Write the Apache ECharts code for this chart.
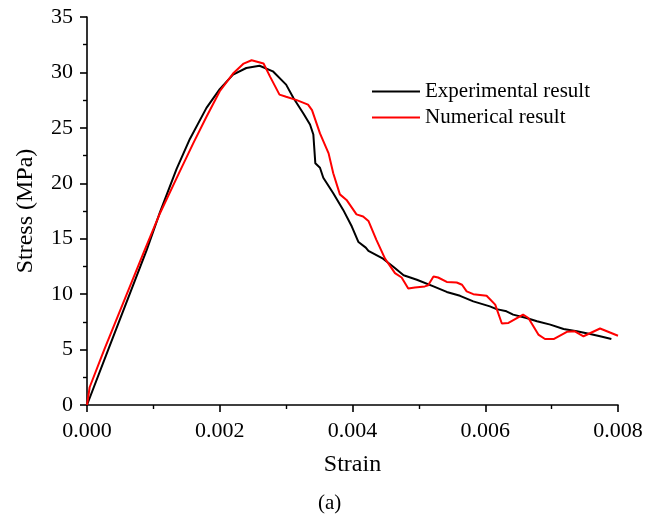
<!DOCTYPE html>
<html>
<head>
<meta charset="utf-8">
<script src="https://cdn.jsdelivr.net/npm/echarts@6/dist/echarts.min.js"></script>
<style>
html,body{margin:0;padding:0;background:#fff;}
#chart{width:646px;height:519px;}
</style>
</head>
<body>
<div id="chart"></div>
<script>
// Experimental result (strain, stress in MPa)
var expStrain = [0,0.00032,0.0009,0.0011,0.00135,0.00155,0.0018,0.002,0.0022,0.0024,0.0026,0.0028,0.003,0.00311,0.00326,0.00336,0.00341,0.00344,0.00351,0.00356,0.00371,0.00386,0.00399,0.00409,0.0042,0.00424,0.00446,0.00461,0.00477,0.00497,0.00522,0.00542,0.00562,0.00582,0.00607,0.00617,0.00632,0.00642,0.00662,0.00678,0.00698,0.00718,0.00738,0.00758,0.00773,0.0079];
var expStress = [0,5.0,14.0,17.4,21.3,24.0,26.8,28.5,29.8,30.4,30.6,30.1,28.9,27.7,26.3,25.3,24.4,21.8,21.4,20.5,19.1,17.6,16.1,14.7,14.2,13.9,13.2,12.5,11.7,11.3,10.7,10.2,9.85,9.35,8.9,8.65,8.45,8.15,7.85,7.55,7.25,6.85,6.65,6.4,6.2,5.95];
// Numerical result
var numStrain = [0,0.00004,0.00026,0.00087,0.0011,0.0014,0.0016,0.0018,0.002,0.0022,0.00236,0.00248,0.00266,0.00276,0.0029,0.003,0.00316,0.00333,0.00339,0.00351,0.00364,0.00371,0.00381,0.00391,0.00406,0.00416,0.00424,0.00436,0.00449,0.00464,0.00474,0.00484,0.00494,0.00509,0.00514,0.00522,0.00529,0.00542,0.00557,0.00565,0.00572,0.00582,0.00602,0.00615,0.00625,0.00635,0.00657,0.00665,0.0068,0.0069,0.00703,0.00723,0.00735,0.00748,0.00773,0.008];
var numStress = [0,1.6,5.0,14.0,17.3,21.1,23.6,26.0,28.3,29.9,30.8,31.1,30.8,29.6,28.0,27.8,27.5,27.1,26.6,24.5,22.7,20.9,19.0,18.5,17.2,17.0,16.6,14.9,13.2,11.9,11.5,10.5,10.6,10.7,10.8,11.6,11.5,11.1,11.05,10.85,10.25,10.0,9.85,9.05,7.35,7.4,8.15,7.85,6.35,5.95,5.95,6.6,6.65,6.2,6.9,6.25];
var seriesNames = ['Experimental result','Numerical result'];
var xTicks = {min:0, max:0.008, interval:0.002};
var yTicks = {min:0, max:35, interval:5};

function zip(a,b){return a.map(function(v,i){return [v,b[i]];});}

var font = '"Liberation Serif","Times New Roman",serif';
var chart = echarts.init(document.getElementById('chart'), null, {renderer:'canvas'});
var axisCommon = {
  axisLine:{show:true,lineStyle:{color:'#000',width:1.6}},
  axisTick:{show:true,inside:false,length:7,lineStyle:{color:'#000',width:1.6}},
  minorTick:{show:true,splitNumber:2,length:4,lineStyle:{color:'#000',width:1.4}},
  splitLine:{show:false},
  nameTextStyle:{fontFamily:font,fontSize:24,color:'#000'}
};
chart.setOption({
  animation:false,
  backgroundColor:'#fff',
  title:{text:'(a)',left:313,top:488,textStyle:{fontFamily:font,fontSize:21,fontWeight:'normal',color:'#000'}},
  grid:{left:87,right:28,top:17,bottom:114,containLabel:false,outerBoundsMode:'none'},
  legend:{
    orient:'vertical',left:367,top:76,itemGap:5,itemWidth:48,itemHeight:2,icon:'rect',
    textStyle:{fontFamily:font,fontSize:21,color:'#000'},
    data:seriesNames
  },
  xAxis:Object.assign({
    type:'value',min:xTicks.min,max:xTicks.max,interval:xTicks.interval,
    name:'Strain',nameLocation:'middle',nameGap:48,
    axisLabel:{fontFamily:font,fontSize:22,color:'#000',margin:15,formatter:function(v){return v.toFixed(3);}}
  },axisCommon),
  yAxis:Object.assign({
    type:'value',min:yTicks.min,max:yTicks.max,interval:yTicks.interval,
    name:'Stress (MPa)',nameLocation:'middle',nameGap:49,nameRotate:90,
    axisLabel:{fontFamily:font,fontSize:22,color:'#000',margin:14}
  },axisCommon),
  series:[
    {name:seriesNames[0],type:'line',data:zip(expStrain,expStress),showSymbol:false,symbol:'none',
     lineStyle:{color:'#000',width:2},itemStyle:{color:'#000'},z:2},
    {name:seriesNames[1],type:'line',data:zip(numStrain,numStress),showSymbol:false,symbol:'none',
     lineStyle:{color:'#ff0000',width:2},itemStyle:{color:'#ff0000'},z:3}
  ]
});
</script>
</body>
</html>
